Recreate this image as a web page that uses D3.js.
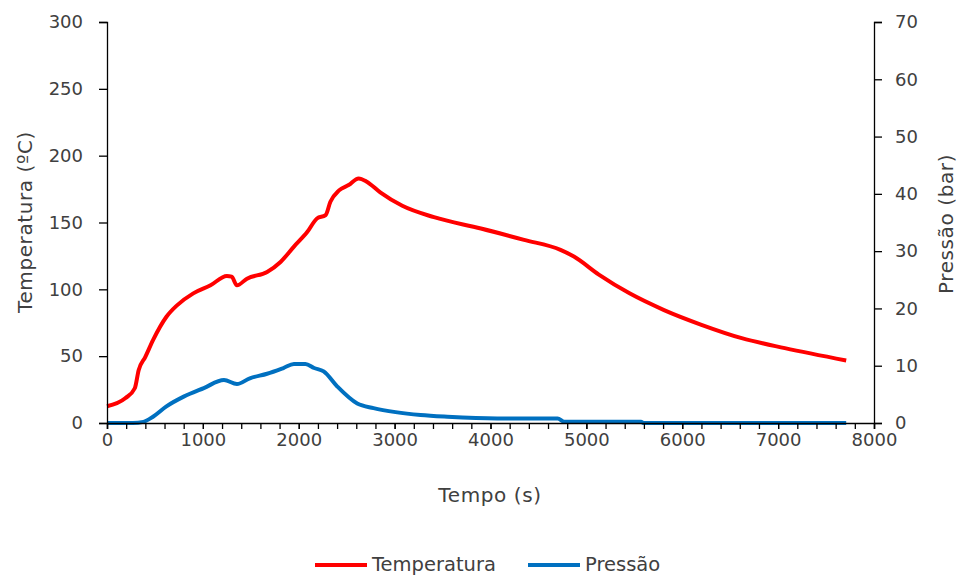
<!DOCTYPE html>
<html>
<head>
<meta charset="utf-8">
<script src="https://cdn.jsdelivr.net/npm/d3@7"></script>
<style>
  body { margin: 0; background: #fff; }
  text { font-family: "DejaVu Sans", sans-serif; fill: #404040; }
  .title { font-size: 20px; letter-spacing: 0.6px; }
</style>
</head>
<body>
<svg id="chart" width="960" height="576"></svg>
<script>
var tempTime = [0, 190, 290, 330, 400, 480, 620, 730, 900, 1080, 1250, 1300, 1355, 1460, 1670, 1810, 1950, 2090, 2190, 2280, 2330, 2420, 2520, 2625, 2710, 2850, 3080, 3410, 3900, 4350, 4730, 4870, 5130, 5450, 5810, 6200, 6620, 7070, 7710];
var tempValues = [12.5, 18.5, 26, 39.5, 49.5, 62, 79.5, 88, 97, 103, 110, 109.5, 103, 108, 113, 120.5, 132, 143, 153, 155.5, 165.5, 174, 178, 183, 180.5, 172.5, 162.5, 154, 145.5, 137, 129.5, 124.5, 111, 97, 84.5, 73.5, 63.5, 56, 46.8];

var presTime = [0, 270, 380, 480, 620, 800, 1010, 1220, 1355, 1490, 1670, 1840, 1950, 2070, 2160, 2260, 2400, 2610, 2780, 3010, 3270, 3550, 4070, 4700, 4770, 5570, 5600, 7710];
var presValues = [0, 0, 0.2, 1.1, 2.9, 4.6, 6.1, 7.5, 6.8, 7.8, 8.6, 9.6, 10.3, 10.3, 9.6, 9.0, 6.4, 3.4, 2.6, 1.9, 1.4, 1.1, 0.8, 0.8, 0.2, 0.2, 0, 0];

var xTicks = [0, 1000, 2000, 3000, 4000, 5000, 6000, 7000, 8000];
var tempTicks = [0, 50, 100, 150, 200, 250, 300];
var presTicks = [0, 10, 20, 30, 40, 50, 60, 70];

var svg = d3.select("#chart"),
  MARGINS = { top: 22, right: 86, bottom: 153, left: 107 },
  WIDTH = 960, HEIGHT = 576;

var x = d3.scaleLinear().domain([0, 8000]).range([MARGINS.left, WIDTH - MARGINS.right]);
var yT = d3.scaleLinear().domain([0, 300]).range([HEIGHT - MARGINS.bottom, MARGINS.top]);
var yP = d3.scaleLinear().domain([0, 70]).range([HEIGHT - MARGINS.bottom, MARGINS.top]);

// minor ticks on x every 200
var xAxisMinor = d3.axisBottom(x).tickValues(d3.range(0, 8001, 200)).tickSize(6).tickFormat("");
var xAxis = d3.axisBottom(x).tickValues(xTicks).tickSize(6).tickPadding(4).tickFormat(d3.format("d"));
var yAxisL = d3.axisLeft(yT).tickValues(tempTicks).tickSize(8).tickPadding(16);
var yAxisR = d3.axisRight(yP).tickValues(presTicks).tickSize(8).tickPadding(13);

function styleAxis(g) {
  g.selectAll("path, line").attr("stroke", "#000").attr("stroke-width", 1.3);
  g.selectAll("text").style("font-size", "18px").style("fill", "#404040").style("font-family", "DejaVu Sans, sans-serif");
}

// lines
var tempLine = d3.line().x(function(d, i) { return x(tempTime[i]); }).y(function(d) { return yT(d); }).curve(d3.curveMonotoneX);
var presLine = d3.line().x(function(d, i) { return x(presTime[i]); }).y(function(d) { return yP(d); }).curve(d3.curveMonotoneX);

svg.append("path").datum(presValues).attr("d", presLine)
  .attr("fill", "none").attr("stroke", "#0070C0").attr("stroke-width", 4);
svg.append("path").datum(tempValues).attr("d", tempLine)
  .attr("fill", "none").attr("stroke", "#FF0000").attr("stroke-width", 4);

svg.append("g").attr("transform", "translate(0," + (HEIGHT - MARGINS.bottom) + ")").call(xAxisMinor).call(styleAxis);
svg.append("g").attr("transform", "translate(0," + (HEIGHT - MARGINS.bottom) + ")").call(xAxis).call(styleAxis)
  .select(".domain").remove();
svg.append("g").attr("transform", "translate(" + MARGINS.left + ",0)").call(yAxisL).call(styleAxis);
svg.append("g").attr("transform", "translate(" + (WIDTH - MARGINS.right) + ",0)").call(yAxisR).call(styleAxis);

// axis titles
svg.append("text").attr("class", "title").attr("x", 490).attr("y", 502).attr("text-anchor", "middle")
  .text("Tempo (s)");
svg.append("text").attr("class", "title").attr("transform", "translate(32,222) rotate(-90)").attr("text-anchor", "middle")
  .text("Temperatura (ºC)");
svg.append("text").attr("class", "title").attr("transform", "translate(953,224) rotate(-90)").attr("text-anchor", "middle")
  .text("Pressão (bar)");

// legend
var legend = [{ name: "Temperatura", color: "#FF0000", x: 315 }, { name: "Pressão", color: "#0070C0", x: 528 }];
var lg = svg.selectAll(".legend").data(legend).enter().append("g").attr("class", "legend");
lg.append("line").attr("x1", function(d) { return d.x; }).attr("x2", function(d) { return d.x + 52; })
  .attr("y1", 565).attr("y2", 565).attr("stroke", function(d) { return d.color; }).attr("stroke-width", 4);
lg.append("text").attr("x", function(d) { return d.x + 57; }).attr("y", 571)
  .style("font-size", "19.5px").text(function(d) { return d.name; });
</script>
</body>
</html>
